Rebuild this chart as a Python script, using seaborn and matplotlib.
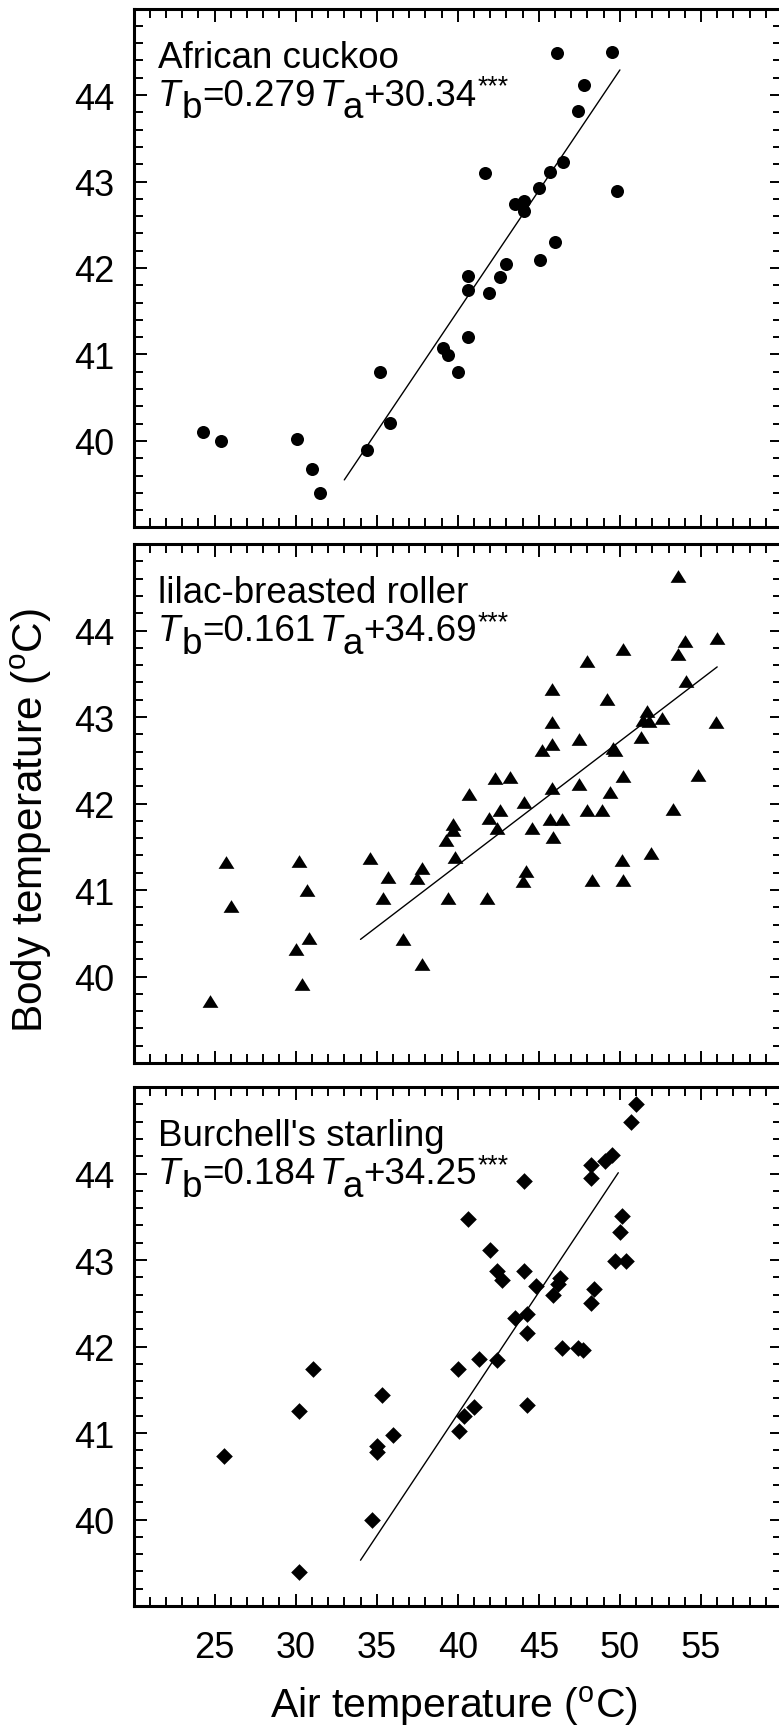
import matplotlib
matplotlib.use("Agg")
import matplotlib.pyplot as plt
import seaborn as sns
import pandas as pd
from matplotlib.ticker import FixedLocator, MultipleLocator

# African cuckoo
cuckoo_ta = [24.3, 25.4, 30.1, 31.0, 31.5, 34.4, 35.2, 35.8, 39.1, 39.4, 40.0, 40.6,
             40.6, 40.6, 41.7, 41.9, 42.6, 43.0, 43.5, 44.1, 44.1, 45.0, 45.1, 45.7,
             46.0, 46.1, 46.5, 47.4, 47.8, 49.5, 49.8]
cuckoo_tb = [40.10, 40.00, 40.02, 39.68, 39.40, 39.89, 40.80, 40.21, 41.07, 40.99, 40.80, 41.20,
             41.91, 41.74, 43.10, 41.71, 41.90, 42.05, 42.74, 42.77, 42.66, 42.93, 42.09, 43.11,
             42.30, 44.49, 43.23, 43.82, 44.11, 44.50, 42.89]

# lilac-breasted roller
roller_ta = [24.7, 25.7, 26.0, 30.0, 30.2, 30.4, 30.7, 30.8, 34.6, 35.4, 35.7, 36.6,
             37.5, 37.8, 37.8, 39.3, 39.4, 39.7, 39.7, 39.8, 40.7, 41.8, 41.9, 42.3,
             42.4, 42.6, 43.2, 44.1, 44.0, 44.2, 44.6, 45.2, 45.7, 45.8, 45.8, 45.8,
             45.8, 45.9, 46.4, 47.5, 47.5, 48.0, 48.0, 48.3, 48.9, 49.2, 49.4, 49.6,
             49.7, 50.1, 50.2, 50.2, 50.2, 51.3, 51.4, 51.7, 51.8, 51.9, 52.6, 53.3,
             53.6, 53.6, 54.0, 54.1, 54.8, 55.9, 56.0]
roller_tb = [39.72, 41.33, 40.82, 40.32, 41.34, 39.91, 41.00, 40.45, 41.37, 40.91, 41.15, 40.43,
             41.14, 41.26, 40.15, 41.58, 40.91, 41.76, 41.70, 41.38, 42.11, 40.91, 41.83, 42.29,
             41.72, 41.92, 42.31, 42.02, 41.11, 41.22, 41.72, 42.62, 41.82, 43.33, 42.94, 42.69,
             42.18, 41.61, 41.82, 42.75, 42.23, 43.65, 41.92, 41.12, 41.92, 43.21, 42.13, 42.64,
             42.62, 41.35, 41.12, 43.79, 42.32, 42.77, 42.97, 43.07, 42.95, 41.43, 42.99, 41.94,
             44.63, 43.73, 43.88, 43.42, 42.33, 42.94, 43.91]

# Burchell's starling
starling_ta = [25.6, 30.2, 30.2, 31.1, 34.7, 35.0, 35.0, 35.3, 36.0, 40.0, 40.1, 40.4,
               40.6, 41.0, 41.3, 42.0, 42.4, 42.4, 42.7, 43.5, 44.1, 44.1, 44.3, 44.3,
               44.3, 44.8, 45.9, 46.2, 46.3, 46.4, 47.4, 47.7, 48.2, 48.4, 48.2, 48.2,
               49.1, 49.5, 49.7, 50.0, 50.1, 50.4, 50.7, 51.0]
starling_tb = [40.74, 41.26, 39.39, 41.74, 39.99, 40.85, 40.78, 41.44, 40.98, 41.74, 41.02, 41.20,
               43.47, 41.30, 41.86, 43.12, 42.87, 41.84, 42.77, 42.33, 42.87, 43.92, 42.38, 42.16,
               41.33, 42.70, 42.60, 42.72, 42.79, 41.98, 41.98, 41.96, 42.50, 42.66, 43.95, 44.10,
               44.14, 44.21, 42.99, 43.32, 43.51, 42.99, 44.60, 44.80]

# regression lines as drawn in the figure
cuckoo_fit_x = [33.0, 50.0]
cuckoo_fit_y = [39.55, 44.29]
roller_fit_x = [34.0, 56.0]
roller_fit_y = [40.43, 43.58]
starling_fit_x = [34.0, 49.9]
starling_fit_y = [39.53, 44.01]

species = ["African cuckoo", "lilac-breasted roller", "Burchell's starling"]
slopes = ["0.279", "0.161", "0.184"]
intercepts = ["30.34", "34.69", "34.25"]

x_ticks = [25, 30, 35, 40, 45, 50, 55]
y_ticks = [40, 41, 42, 43, 44]

sns.set_theme(style="ticks")
plt.rcParams['font.family'] = ['Liberation Sans', 'DejaVu Sans']
plt.rcParams['mathtext.fontset'] = 'custom'
plt.rcParams['mathtext.rm'] = 'Liberation Sans'
plt.rcParams['mathtext.it'] = 'Liberation Sans:italic'
plt.rcParams['text.color'] = 'black'

fs = 26.5
tri = [(-1, -0.8), (1, -0.8), (0, 0.8)]

panels = [
    (cuckoo_ta, cuckoo_tb, cuckoo_fit_x, cuckoo_fit_y, "o", 88),
    (roller_ta, roller_tb, roller_fit_x, roller_fit_y, tri, 130),
    (starling_ta, starling_tb, starling_fit_x, starling_fit_y, "D", 72),
]

fig = plt.figure(figsize=(7.79, 17.31), dpi=100)
left, width, height = 0.1714, 0.8325, 0.2998
bottoms = [0.6947, 0.3853, 0.0716]


def put_equation(ax, slope, icpt):
    y0 = 0.815
    t = ax.text(0.038, y0, "T", transform=ax.transAxes, fontsize=fs,
                style="italic", va="baseline")
    pieces = [("b", fs, -9, 0.5), ("=" + slope, fs, 0, 0.5),
              ("T", fs, 0, 3.0), ("a", fs, -9, 0.0),
              ("+" + icpt, fs, 0, 0.5), ("***", fs * 0.72, 8, 0.5)]
    prev = t
    for s, size, dy, dx in pieces:
        prev = ax.annotate(s, xy=(1, y0), xycoords=(prev, "axes fraction"),
                           xytext=(dx, dy), textcoords="offset points",
                           fontsize=size, va="baseline", ha="left",
                           style="italic" if s == "T" else "normal")


for i, (ta, tb, fx, fy, mk, sz) in enumerate(panels):
    ax = fig.add_axes([left, bottoms[i], width, height])
    df = pd.DataFrame({"Ta": ta, "Tb": tb})
    sns.scatterplot(data=df, x="Ta", y="Tb", ax=ax, marker=mk, s=sz,
                    color="black", linewidth=0)
    sns.lineplot(x=fx, y=fy, ax=ax, color="black", linewidth=1.0)

    ax.set_xlim(20, 60)
    ax.set_ylim(39, 45)
    ax.xaxis.set_major_locator(FixedLocator(x_ticks))
    ax.xaxis.set_minor_locator(MultipleLocator(1))
    ax.yaxis.set_major_locator(FixedLocator(y_ticks))
    ax.yaxis.set_minor_locator(MultipleLocator(0.2))
    ax.tick_params(which="both", direction="in", top=True, right=True,
                   width=1.4, color="black", labelsize=26, labelcolor="black")
    ax.tick_params(which="major", length=9)
    ax.tick_params(which="minor", length=6.5)
    ax.tick_params(axis="y", pad=14)
    ax.tick_params(axis="x", pad=17)
    if i < 2:
        ax.tick_params(axis="x", labelbottom=False)
    for sp in ax.spines.values():
        sp.set_linewidth(2.2)
        sp.set_color("black")
    ax.set_xlabel("")
    ax.set_ylabel("")

    ax.text(0.038, 0.888, species[i], transform=ax.transAxes, fontsize=fs,
            va="baseline")
    put_equation(ax, slopes[i], intercepts[i])

fig.text(0.040, 0.526, r"Body temperature ($^{\rm o}$C)", rotation=90,
         fontsize=30.5, ha="center", va="center")
fig.text(0.583, 0.002, r"Air temperature ($^{\rm o}$C)", fontsize=29.5,
         ha="center", va="bottom")

fig.savefig("out.png", dpi=100, facecolor="white")
